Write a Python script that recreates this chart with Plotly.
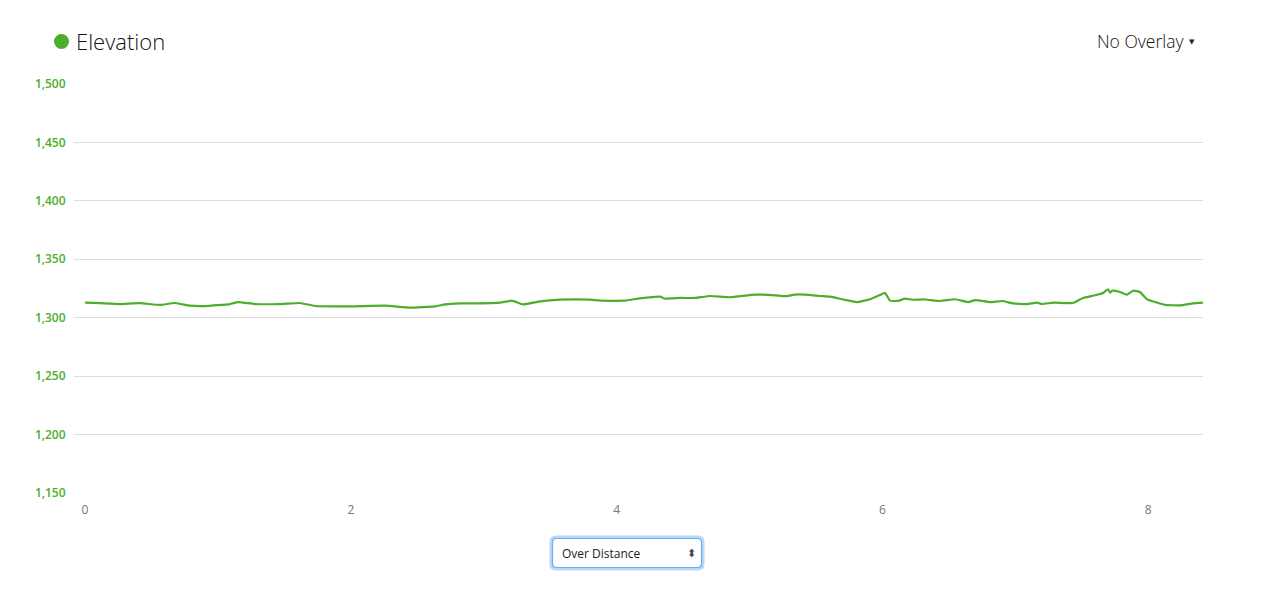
import plotly.graph_objects as go

# Distance (km) and elevation (m)
distance_km = [0, 0.113, 0.263, 0.414, 0.564, 0.677, 0.79, 0.903, 1.091, 1.151,
               1.279, 1.467, 1.618, 1.731, 1.994, 2.257, 2.445, 2.634, 2.709, 2.822,
               2.935, 3.123, 3.213, 3.296, 3.424, 3.574, 3.8, 3.875, 4.063, 4.176,
               4.327, 4.364, 4.477, 4.59, 4.703, 4.853, 5.041, 5.192, 5.267, 5.342,
               5.418, 5.53, 5.606, 5.719, 5.809, 5.907, 5.982, 6.02, 6.057, 6.117,
               6.17, 6.223, 6.321, 6.433, 6.546, 6.644, 6.697, 6.81, 6.9, 6.983,
               7.088, 7.163, 7.201, 7.284, 7.434, 7.509, 7.6, 7.66, 7.697, 7.713,
               7.728, 7.788, 7.84, 7.886, 7.938, 7.991, 8.126, 8.239, 8.337, 8.412]
elevation_m = [1312.9, 1312.4, 1311.7, 1312.4, 1311.0, 1312.6, 1310.3, 1310.0, 1311.7, 1313.4,
               1311.7, 1311.7, 1312.6, 1310.0, 1309.7, 1310.3, 1308.6, 1309.7, 1311.4, 1312.3,
               1312.3, 1312.9, 1314.6, 1311.4, 1314.0, 1315.4, 1315.4, 1314.6, 1314.6, 1316.6,
               1318.0, 1316.3, 1316.9, 1316.9, 1318.6, 1317.5, 1319.8, 1319.2, 1318.4, 1319.8,
               1319.8, 1318.6, 1318.0, 1315.2, 1313.4, 1315.8, 1319.5, 1321.2, 1314.6, 1314.4,
               1316.3, 1315.4, 1315.6, 1314.3, 1315.8, 1313.4, 1315.0, 1313.4, 1314.3, 1312.3,
               1311.7, 1312.9, 1311.7, 1312.9, 1312.6, 1316.9, 1319.2, 1321.2, 1324.3, 1321.5,
               1323.1, 1322.0, 1319.8, 1323.1, 1322.0, 1315.8, 1311.0, 1310.6, 1312.3, 1312.9]

y_ticks = [1150, 1200, 1250, 1300, 1350, 1400, 1450, 1500]
x_ticks = [0, 2, 4, 6, 8]

GREEN = "#4cae2c"
W, H = 1261, 599
L, R, T, B = 74, 58, 84, 106
pw, ph = W - L - R, H - T - B


def px(x):
    return (x - L) / pw


def py(y):
    return (H - B - y) / ph


fig = go.Figure()
fig.add_trace(go.Scatter(x=distance_km, y=elevation_m, mode="lines",
                         line=dict(color=GREEN, width=2.2, shape="spline", smoothing=0.4),
                         hoverinfo="x+y", showlegend=False))

fig.update_layout(
    width=W, height=H,
    margin=dict(l=L, r=R, t=T, b=B),
    paper_bgcolor="white", plot_bgcolor="white",
    font=dict(family="Open Sans", color="#333"),
    xaxis=dict(range=[-0.083, 8.412], tickvals=x_ticks, showgrid=False,
               zeroline=False, showline=False,
               tickfont=dict(size=12, color="#777"), ticks="outside",
               ticklen=6, tickcolor="rgba(0,0,0,0)"),
    yaxis=dict(range=[1150, 1500], tickvals=y_ticks, tickformat=",",
               showgrid=True, gridcolor="#dcdcdc", gridwidth=1, zeroline=False,
               tickfont=dict(size=12, color=GREEN, family="Open Sans", weight=600),
               ticks="outside", ticklen=5, tickcolor="rgba(0,0,0,0)"),
)

# Title with dot
fig.add_shape(type="circle", xref="paper", yref="paper",
              x0=px(54), x1=px(69), y0=py(49), y1=py(34),
              fillcolor=GREEN, line=dict(width=0))
fig.add_annotation(text="Elevation", xref="paper", yref="paper",
                   x=px(74), y=py(41), xanchor="left", yanchor="middle",
                   showarrow=False,
                   font=dict(size=22, color="#111", family="Open Sans", weight=300))
fig.add_annotation(text="No Overlay", xref="paper", yref="paper",
                   x=px(1186), y=py(41), xanchor="right", yanchor="middle",
                   showarrow=False,
                   font=dict(size=17.5, color="#111", family="Open Sans", weight=300))
fig.add_annotation(text="▼", xref="paper", yref="paper",
                   x=px(1192), y=py(42), xanchor="center", yanchor="middle",
                   showarrow=False, font=dict(size=7, color="#222", family="DejaVu Sans"))


def rounded_rect(hw, hh, r):
    return (f"M {-hw + r},{-hh} L {hw - r},{-hh} Q {hw},{-hh} {hw},{-hh + r} "
            f"L {hw},{hh - r} Q {hw},{hh} {hw - r},{hh} L {-hw + r},{hh} "
            f"Q {-hw},{hh} {-hw},{hh - r} L {-hw},{-hh + r} Q {-hw},{-hh} {-hw + r},{-hh} Z")


# Dropdown box "Over Distance"
cx, cy = px(627), py(553)
fig.add_shape(type="path", xref="paper", yref="paper", xsizemode="pixel", ysizemode="pixel",
              xanchor=cx, yanchor=cy, path=rounded_rect(76, 16, 5),
              line=dict(color="#b9d7f7", width=3), fillcolor="white")
fig.add_shape(type="path", xref="paper", yref="paper", xsizemode="pixel", ysizemode="pixel",
              xanchor=cx, yanchor=cy, path=rounded_rect(74.5, 14.5, 4),
              line=dict(color="#72aaf0", width=1.2), fillcolor="white")
fig.add_annotation(text="Over Distance", xref="paper", yref="paper",
                   x=px(560), y=py(553), xanchor="left", yanchor="middle",
                   showarrow=False, font=dict(size=12, color="#222", family="Open Sans"))
fig.add_annotation(text="⬍", xref="paper", yref="paper",
                   x=px(691), y=py(553), xanchor="center", yanchor="middle",
                   showarrow=False, font=dict(size=11, color="#444", family="DejaVu Sans"))

fig.write_html("out.html", config={"displayModeBar": False},
               post_script="document.body.style.margin='0';")
